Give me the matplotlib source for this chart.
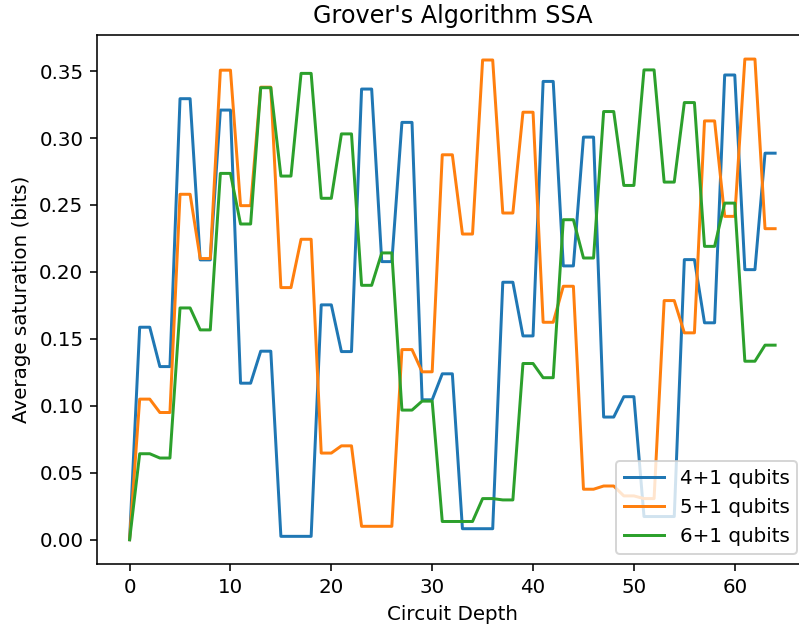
import matplotlib
matplotlib.use("Agg")
import matplotlib.pyplot as plt
import numpy as np

# depth 0 is zero for every series, then each value holds for two depths
blue_steps = [0.1587, 0.1293, 0.3294, 0.2090, 0.3209, 0.1169, 0.1408, 0.0025,
              0.0025, 0.1754, 0.1405, 0.3366, 0.2077, 0.3117, 0.1045, 0.1239,
              0.0082, 0.0082, 0.1923, 0.1522, 0.3423, 0.2045, 0.3007, 0.0916,
              0.1068, 0.0173, 0.0173, 0.2092, 0.1620, 0.3471, 0.2017, 0.2887]
orange_steps = [0.1050, 0.0950, 0.2580, 0.2100, 0.3507, 0.2495, 0.3380, 0.1883,
                0.2244, 0.0647, 0.0701, 0.0100, 0.0100, 0.1420, 0.1254, 0.2875,
                0.2283, 0.3583, 0.2440, 0.3193, 0.1624, 0.1893, 0.0377, 0.0401,
                0.0327, 0.0307, 0.1786, 0.1545, 0.3128, 0.2415, 0.3590, 0.2323]
green_steps = [0.0642, 0.0610, 0.1731, 0.1567, 0.2736, 0.2358, 0.3376, 0.2716,
               0.3483, 0.2550, 0.3031, 0.1900, 0.2142, 0.0968, 0.1035, 0.0136,
               0.0136, 0.0307, 0.0297, 0.1316, 0.1210, 0.2390, 0.2104, 0.3198,
               0.2646, 0.3509, 0.2671, 0.3265, 0.2191, 0.2514, 0.1333, 0.1453]
labels = ["4+1 qubits", "5+1 qubits", "6+1 qubits"]


def expand(steps):
    return [0.0] + [v for v in steps for _ in range(2)]


depth = np.arange(65)

DPI = 143
fig = plt.figure(figsize=(799 / DPI, 630 / DPI), dpi=DPI)
ax = fig.add_axes([0.1218, 0.1052, 0.8887, 0.8392])

for steps, lab in zip([blue_steps, orange_steps, green_steps], labels):
    ax.plot(depth, expand(steps), label=lab)

ax.set_title("Grover's Algorithm SSA")
ax.set_xlabel("Circuit Depth")
ax.set_ylabel("Average saturation (bits)")
ax.legend(loc="lower right")

fig.savefig("out.png", dpi=DPI)
